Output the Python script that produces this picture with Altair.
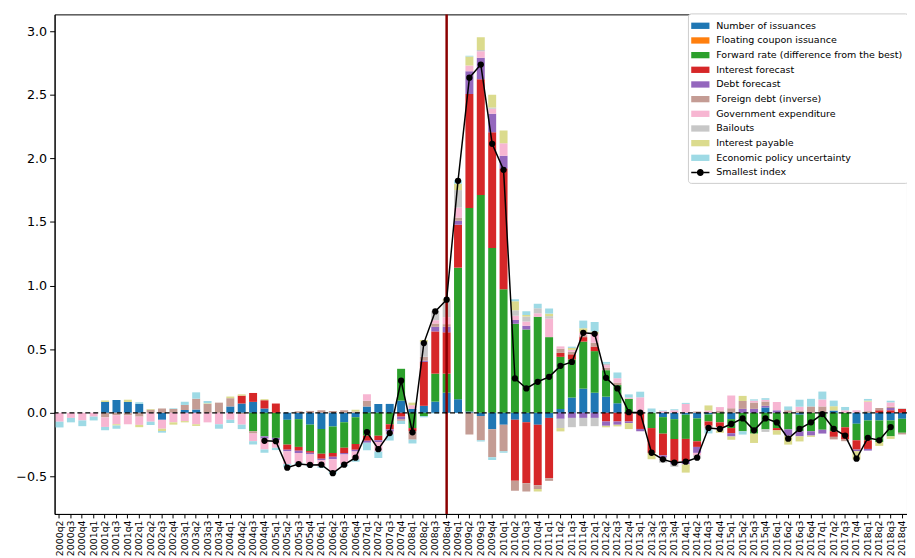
import altair as alt
import pandas as pd

# ---- categories ----
quarters = [f"{y}q{q}" for y in range(2000, 2019) for q in range(1, 5)][1:]  # 2000q2 .. 2018q4
crisis_quarter = ["2008q4"]
y_ticks = [-0.5, 0.0, 0.5, 1.0, 1.5, 2.0, 2.5, 3.0]

components = [
    "Number of issuances",
    "Floating coupon issuance",
    "Forward rate (difference from the best)",
    "Interest forecast",
    "Debt forecast",
    "Foreign debt (inverse)",
    "Government expenditure",
    "Bailouts",
    "Interest payable",
    "Economic policy uncertainty",
]
line_name = "Smallest index"
colors = ["#1f77b4", "#ff7f0e", "#2ca02c", "#d62728", "#9467bd",
          "#c49c94", "#f7b6d2", "#c7c7c7", "#dbdb8d", "#9edae5"]

# ---- series values (one per quarter, 2000q2 .. 2018q4) ----
issuances = [0, 0, 0, 0, 0.085, 0.10, 0.085, 0.07, 0, -0.055,
             0, 0.022, 0.026, 0, 0, 0.05, 0.073, 0.086, 0.034, 0,
             -0.055, -0.05, -0.093, -0.127, -0.107, -0.075, -0.035, 0.05, 0.07, 0.07,
             0.096, 0.03, 0.055, 0.088, 0.158, 0.107, 0.01, -0.025, -0.13, -0.093,
             -0.055, -0.075, -0.094, -0.04, 0.03, 0.12, 0.19, 0.158, 0.127, 0.075,
             0, 0, 0, -0.034, -0.05, -0.015, -0.044, -0.013, 0, -0.05,
             0, 0, 0.042, 0, 0, -0.015, 0, 0, 0.018, 0,
             -0.086, -0.06, -0.06, -0.06, -0.047]
floating = [0, 0, 0, 0, 0, 0, 0, 0, 0, 0,
            0, 0, 0, 0, 0, 0, 0, 0, 0, 0,
            0, 0, 0, 0, 0, 0, 0, 0, 0, 0,
            0, 0, 0, 0, 0, 0, 0, 0, 0, 0,
            0, 0, 0, 0, 0, 0, 0, 0, 0, 0,
            0, 0, 0, 0, 0, 0, 0, 0, 0, 0,
            0, 0, 0, 0, 0, 0, 0, 0, 0, 0,
            0, 0, 0, 0, 0]
forward = [0, 0, 0, 0, 0, 0, 0, 0, 0, 0,
           0, 0, 0, 0, 0, 0, 0, -0.145, -0.185, -0.197,
           -0.195, -0.218, -0.208, -0.195, -0.208, -0.2, -0.21, -0.18, -0.18, -0.09,
           0.25, -0.12, -0.025, 0.22, 0.15, 1.034, 1.6, 1.712, 1.296, 0.972,
           0.70, 0.655, 0.756, 0.595, 0.41, 0.30, 0.37, 0.327, 0.208, 0.143,
           0.11, 0, -0.12, -0.13, -0.156, -0.19, -0.18, -0.055, -0.075, -0.07,
           -0.145, -0.164, -0.13, -0.12, -0.13, -0.13, -0.145, -0.133, -0.145, -0.114,
           -0.13, -0.156, -0.17, -0.125, -0.11]
interest_fc = [0, 0, 0, 0, 0, 0, 0, 0, 0, 0,
               0, 0, 0, 0, 0, 0, 0.062, 0.07, 0.065, 0.073,
               -0.04, -0.03, -0.013, -0.04, -0.03, -0.04, -0.045, -0.04, -0.035, -0.04,
               -0.03, -0.026, 0.345, 0.332, 0.325, 0.338, 0.896, 0.91, 0.91, 0.948,
               -0.48, -0.478, -0.475, -0.475, 0.031, 0.04, 0.035, 0.036, -0.068, -0.068,
               -0.068, -0.127, -0.195, -0.17, -0.18, -0.174, -0.044, -0.034, -0.036, -0.04,
               0, 0, 0, -0.018, 0, 0, 0, 0, -0.044, -0.096,
               -0.073, -0.068, 0.02, 0.02, 0.03]
debt_fc = [0, 0, 0, 0, 0, 0, 0, 0, 0, 0,
           0, 0, 0, 0, 0, 0, 0, 0, -0.018, -0.018,
           -0.013, -0.018, -0.013, -0.01, -0.02, -0.013, -0.015, -0.015, -0.015, -0.018,
           -0.02, 0, 0.01, 0.036, 0.044, 0.03, 0.18, 0.17, 0.145, 0.10,
           0.03, 0.03, 0, 0, -0.047, -0.04, -0.04, -0.04, -0.034, -0.026,
           -0.013, -0.018, 0, -0.018, -0.018, -0.026, -0.047, 0, 0, -0.026,
           0.031, 0.031, 0.013, 0.02, -0.05, -0.04, -0.034, -0.03, 0, 0,
           -0.013, -0.013, 0, 0.018, 0]
foreign_debt = [0, 0, 0, 0, -0.036, -0.02, -0.02, -0.03, 0.025, 0.034,
                0.03, 0.04, 0.085, 0.07, 0.08, 0.065, -0.01, -0.018, 0, 0,
                0, 0.012, 0.015, 0.02, 0.015, 0.02, 0.01, 0.045, 0, 0,
                -0.013, -0.065, 0.03, 0.026, 0.02, 0.026, -0.17, -0.19, -0.22, -0.21,
                -0.077, -0.065, -0.03, -0.02, 0.033, 0.02, 0.015, 0.03, 0.02, 0.02,
                0, 0, 0, 0, 0, 0, 0.01, -0.02, 0.015, 0.036,
                0.062, 0.05, 0.034, 0, 0.02, 0.018, 0.05, 0.05, -0.02, -0.013,
                0, 0.013, 0.018, 0.01, -0.013]
gov_exp = [-0.07, -0.04, -0.06, -0.03, -0.075, -0.07, -0.07, -0.065, -0.07, -0.07,
           -0.075, -0.065, -0.09, -0.075, -0.09, -0.055, -0.083, -0.06, -0.085, -0.06,
           -0.10, -0.078, -0.085, -0.05, -0.095, -0.08, -0.06, 0.05, -0.075, -0.02,
           0, 0.03, 0, 0.026, 0.055, 0.078, 0.045, 0.05, 0.04, 0.10,
           0.033, 0.033, 0.026, 0.145, 0.018, 0.015, 0.02, 0.07, 0.02, 0.034,
           0.01, 0.122, 0, 0.013, 0.02, 0.07, -0.02, 0.018, 0.03, 0.10,
           0, 0.015, 0.013, 0.065, 0, 0.03, 0, 0.055, 0, 0.02,
           0.02, 0.075, 0, 0.034, 0]
bailouts = [0, 0, 0, 0, 0, 0, 0, 0, 0, 0,
            0, 0, 0, 0, 0, 0, 0, 0, 0, 0,
            0, 0, 0, 0, 0, 0, 0, 0, 0, 0,
            0, 0, 0.115, 0.073, 0.13, 0.138, 0, 0.01, 0.01, 0,
            0.044, 0.04, 0.04, 0.02, -0.073, -0.073, -0.065, -0.065, 0.01, 0,
            0, 0, 0, -0.04, -0.02, 0, -0.026, 0, -0.026, 0,
            0, 0, -0.02, 0, 0, 0, 0, 0, 0, 0,
            0, 0, 0, 0, 0.005]
interest_pay = [0, 0, 0, 0, 0.012, -0.01, 0.018, -0.018, 0.005, -0.018,
                -0.018, -0.01, -0.013, 0.005, 0, 0.013, 0.01, 0, 0.008, 0,
                0, 0, 0, 0, 0, 0, 0.015, 0, 0, 0,
                0, 0.02, 0.018, 0, 0.01, 0.05, 0.07, 0.10, 0.10, 0.10,
                0.07, 0.01, -0.02, 0.02, -0.026, 0.015, 0.035, 0.018, -0.012, -0.013,
                -0.047, 0, -0.05, 0, 0, -0.065, 0, 0.04, -0.02, -0.026,
                0.04, -0.073, 0, -0.034, -0.07, -0.04, -0.01, 0, 0.034, 0,
                -0.065, 0.008, -0.03, -0.02, 0]
epu = [-0.045, -0.035, -0.045, -0.03, -0.026, -0.025, 0, 0.013, -0.026, -0.013,
       0.005, 0.025, 0.05, 0.018, -0.035, -0.025, -0.035, -0.026, -0.026, -0.018,
       -0.026, -0.013, -0.01, -0.01, -0.018, -0.013, -0.02, -0.06, -0.05, -0.05,
       -0.025, -0.03, -0.01, -0.005, 0, 0.026, 0.005, -0.01, -0.02, -0.01,
       0.015, 0.03, 0.035, 0.04, 0, 0.01, 0.06, 0.075, 0.015, 0.045,
       0.025, 0.044, 0.034, 0.005, 0.008, 0.008, 0, -0.04, 0, 0,
       -0.026, 0.01, 0.013, 0, 0.03, 0.055, 0.06, 0.062, 0.044, 0.026,
       0, 0.013, 0, 0.013, 0]

# smallest index: 2004q4 .. 2018q3
index_quarters = quarters[18:74]
smallest_index = [-0.22, -0.223, -0.431, -0.403, -0.41, -0.408, -0.475, -0.408, -0.353, -0.151,
                  -0.286, -0.159, 0.252, -0.153, 0.548, 0.797, 0.889, 1.824, 2.634, 2.738,
                  2.115, 1.91, 0.27, 0.192, 0.244, 0.283, 0.369, 0.40, 0.629, 0.621,
                  0.275, 0.192, 0.005, 0.002, -0.314, -0.366, -0.392, -0.384, -0.353, -0.119,
                  -0.127, -0.088, -0.044, -0.138, -0.044, -0.076, -0.203, -0.127, -0.075, -0.01,
                  -0.127, -0.179, -0.361, -0.197, -0.216, -0.112]

series = [issuances, floating, forward, interest_fc, debt_fc,
          foreign_debt, gov_exp, bailouts, interest_pay, epu]

rows = []
for k, (name, vals) in enumerate(zip(components, series)):
    for q, v in zip(quarters, vals):
        if v != 0:
            rows.append({"quarter": q, "component": name, "value": v, "order": k})
bar_df = pd.DataFrame(rows)
line_df = pd.DataFrame({"quarter": index_quarters, "value": smallest_index})
vline_df = pd.DataFrame({"quarter": crisis_quarter})
zero_df = pd.DataFrame({"value": [0.0]})

FONT = "DejaVu Sans"

x_scale = alt.Scale(domain=quarters, paddingInner=0.3, paddingOuter=0.085)
x_axis = alt.Axis(title=None, labelAngle=270, labelFontSize=9.5, labelFont=FONT,
                  labelColor="black", tickColor="black", tickSize=4, labelPadding=2,
                  domainColor="black", labelOverlap=False, labelFlush=False, grid=False)
y_scale = alt.Scale(domain=[-0.795, 3.132], nice=False, zero=False)
y_axis = alt.Axis(title=None, values=y_ticks,
                  labelExpr="replace(format(datum.value, '.1f'), '-', '\u2212')",
                  labelFontSize=12.8, labelFont=FONT, labelColor="black",
                  tickColor="black", tickSize=5, labelPadding=3,
                  domainColor="black", grid=False)

line_sym = ("M-1.3,-0.1H-0.5V0.1H-1.3Z M0.5,-0.1H1.3V0.1H0.5Z "
            "M-0.5,0A0.5,0.5,0,1,1,0.5,0A0.5,0.5,0,1,1,-0.5,0Z")
rect_sym = "M-1.3,-0.45H1.3V0.45H-1.3Z"
sym_expr = f"datum.label === '{line_name}' ? '{line_sym}' : '{rect_sym}'"

legend = alt.Legend(
    title=None, orient="top-right", offset=-1, padding=5,
    fillColor="white", strokeColor="#cccccc", cornerRadius=3,
    labelFont=FONT, labelFontSize=9.6, labelColor="black", labelLimit=400,
    symbolSize=200, symbolType=alt.ExprRef(expr=sym_expr), symbolStrokeWidth=0,
    symbolOpacity=1, rowPadding=1.8, labelOffset=8.5,
)

bars = alt.Chart(bar_df).mark_bar().encode(
    x=alt.X("quarter:N", scale=x_scale, axis=x_axis),
    y=alt.Y("value:Q", stack="zero", scale=y_scale, axis=y_axis),
    color=alt.Color("component:N",
                    scale=alt.Scale(domain=components + [line_name], range=colors + ["black"]),
                    legend=legend),
    order=alt.Order("order:Q", sort="ascending"),
)

vline = alt.Chart(vline_df).mark_rule(color="#8b0000", strokeWidth=2.5).encode(
    x=alt.X("quarter:N", scale=x_scale, axis=x_axis),
)

zero_line = alt.Chart(zero_df).mark_rule(color="black", strokeDash=[5, 3], strokeWidth=1.3).encode(
    y=alt.Y("value:Q", scale=y_scale, axis=y_axis),
)

idx_line = alt.Chart(line_df).mark_line(color="black", strokeWidth=1.5).encode(
    x=alt.X("quarter:N", scale=x_scale, axis=x_axis),
    y=alt.Y("value:Q", scale=y_scale, axis=y_axis),
)
idx_pts = alt.Chart(line_df).mark_point(filled=True, color="black", size=40, opacity=1).encode(
    x=alt.X("quarter:N", scale=x_scale, axis=x_axis),
    y=alt.Y("value:Q", scale=y_scale, axis=y_axis),
)

chart = alt.layer(bars, vline, zero_line, idx_line, idx_pts).properties(
    width=860, height=504,
    title=alt.TitleParams("Latvia", fontSize=24, font=FONT, fontWeight="normal",
                          color="black", offset=1, anchor="middle"),
    autosize=alt.AutoSizeParams(type="none"),
    padding={"left": 47, "top": 4, "right": 0, "bottom": 42},
).configure_view(stroke="black", strokeWidth=1).configure_axis(grid=False)

chart.save("out.html", embed_options={"renderer": "svg", "actions": False})
